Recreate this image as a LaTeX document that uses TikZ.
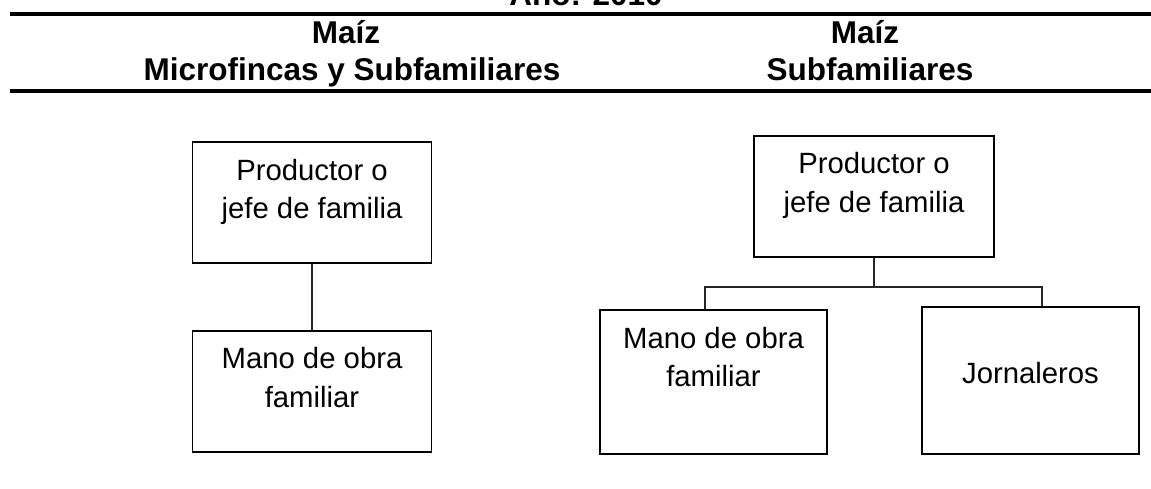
\documentclass[tikz,border=0pt]{standalone}
\usepackage{fontspec}
\setmainfont{Liberation Sans}
\usepackage{tikz}
\usetikzlibrary{positioning}

% texto de caja alineado arriba: ancho, alto, lineas
\newcommand{\cajatexto}[3]{\parbox[t][#2][t]{#1}{\centering\rule{0pt}{38pt}#3}}

\begin{document}
\begin{tikzpicture}[
    x=1pt, y=-1pt,
    regla/.style={line width=3.8pt},
    encabezado/.style={anchor=base, inner sep=0pt, font=\fontsize{31.5}{37}\selectfont\bfseries},
    caja/.style={draw, line width=1.8pt, inner sep=0pt, font=\fontsize{29.3}{38.5}\selectfont},
    enlace/.style={line width=1.3pt, draw=black!85}
]
\useasboundingbox (0,0) rectangle (1151,489);

% Titulo y reglas
\node[encabezado] (anio) at (586,6) {Año: 2010};
\draw[regla] (10,13.8) -- (1151,13.8);
\draw[regla] (10,91) -- (1151,91);

% Encabezados de columna
\node[encabezado] (maizA) at (346,44) {Maíz};
\node[encabezado] (tipoA) at (352,81) {Microfincas y Subfamiliares};
\node[encabezado] (maizB) at (865,44) {Maíz};
\node[encabezado] (tipoB) at (870,81) {Subfamiliares};

% Columna izquierda
\node[caja] (jefeA) at (312,202.8) {\cajatexto{239pt}{121pt}{Productor o\\jefe de familia}};
\node[caja] (manoA) at (312,391.2) {\cajatexto{239pt}{121pt}{Mano de obra\\familiar}};

% Columna derecha
\node[caja] (jefeB) at (874,196.5) {\cajatexto{240pt}{121pt}{Productor o\\jefe de familia}};
\node[caja] (manoB) at (713.5,382) {\cajatexto{227pt}{144pt}{Mano de obra\\familiar}};
\node[caja] (jorn) at (1030.5,380.5) {\cajatexto{217pt}{147pt}{\mbox{}\\Jornaleros}};
\coordinate (ramaB) at (874,287);

% Conectores
\draw[enlace] (jefeA) -- (manoA);
\draw[enlace] (jefeB) -- (ramaB);
\draw[enlace] (ramaB) -| ([xshift=-8.5pt]manoB.north);
\draw[enlace] (ramaB) -| ([xshift=11.5pt]jorn.north);

\end{tikzpicture}
\end{document}
